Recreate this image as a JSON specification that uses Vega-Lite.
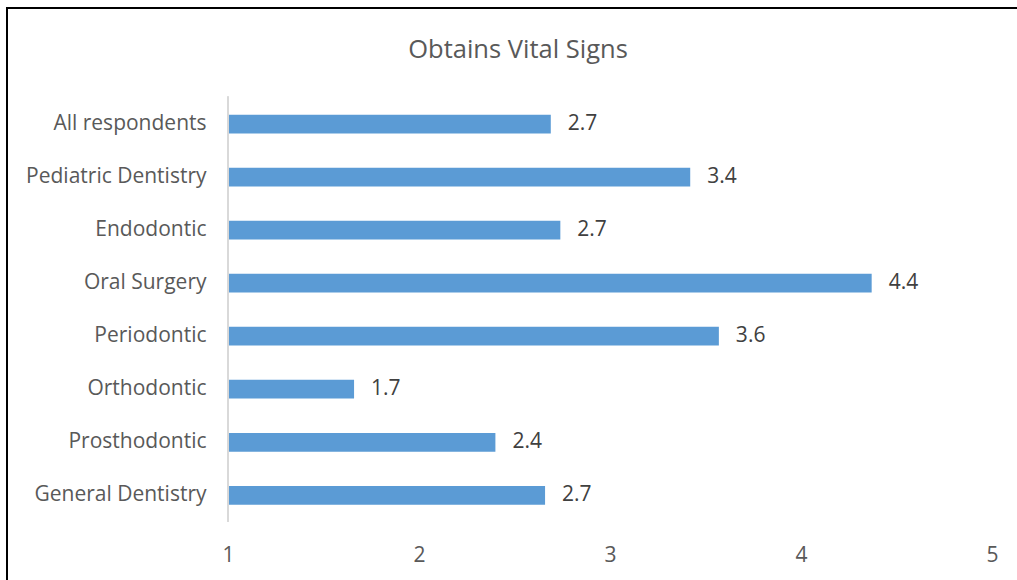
{
  "$schema": "https://vega.github.io/schema/vega-lite/v6.json",
  "autosize": "none",
  "width": 1030,
  "height": 590,
  "padding": {"left": 7, "top": 8, "right": 0, "bottom": 0},
  "background": "white",
  "config": {
    "view": {"stroke": "black", "strokeWidth": 2},
    "font": "Open Sans"
  },
  "title": {
    "text": "Obtains Vital Signs",
    "fontSize": 25.5,
    "font": "Open Sans",
    "fontWeight": "normal",
    "color": "#595959",
    "anchor": "middle",
    "offset": -55,
    "dx": -4
  },
  "data": {
    "values": [
      {"group": "All respondents", "score": 2.69},
      {"group": "Pediatric Dentistry", "score": 3.42},
      {"group": "Endodontic", "score": 2.74},
      {"group": "Oral Surgery", "score": 4.37},
      {"group": "Periodontic", "score": 3.57},
      {"group": "Orthodontic", "score": 1.66},
      {"group": "Prosthodontic", "score": 2.4},
      {"group": "General Dentistry", "score": 2.66}
    ]
  },
  "encoding": {
    "y": {
      "field": "group",
      "type": "nominal",
      "sort": null,
      "scale": {
        "domain": ["", "All respondents", "Pediatric Dentistry", "Endodontic", "Oral Surgery", "Periodontic", "Orthodontic", "Prosthodontic", "General Dentistry", " "],
        "paddingInner": 0.647,
        "paddingOuter": 0.885,
        "align": 0.571
      },
      "axis": {
        "title": null,
        "orient": "left",
        "offset": -221,
        "domain": false,
        "ticks": false,
        "labelPadding": 22,
        "labelLimit": 400,
        "labelFontSize": 21,
        "labelColor": "#595959",
        "labelFont": "Open Sans"
      }
    }
  },
  "layer": [
    {
      "mark": {"type": "bar", "color": "#5B9BD5"},
      "encoding": {
        "x": {
          "field": "score",
          "type": "quantitative",
          "scale": {"domain": [-0.15707, 5.23560], "nice": false, "zero": false},
          "axis": {
            "title": null,
            "values": [1, 2, 3, 4, 5],
            "format": "d",
            "orient": "bottom",
            "offset": -54,
            "domain": false,
            "ticks": false,
            "grid": false,
            "labelPadding": 0,
            "labelFontSize": 21,
            "labelColor": "#595959",
            "labelFont": "Open Sans"
          }
        },
        "x2": {"datum": 1}
      }
    },
    {
      "mark": {"type": "rule", "color": "#D9D9D9", "strokeWidth": 1.5},
      "encoding": {
        "x": {"datum": 1},
        "y": {"datum": "All respondents", "bandPosition": -0.95},
        "y2": {"datum": "General Dentistry", "bandPosition": 1.91}
      }
    },
    {
      "mark": {"type": "text", "align": "left", "baseline": "middle", "dx": 17, "fontSize": 21, "color": "#404040", "font": "Open Sans"},
      "encoding": {
        "x": {"field": "score", "type": "quantitative"},
        "text": {"field": "score", "type": "quantitative", "format": ".1f"}
      }
    }
  ]
}
